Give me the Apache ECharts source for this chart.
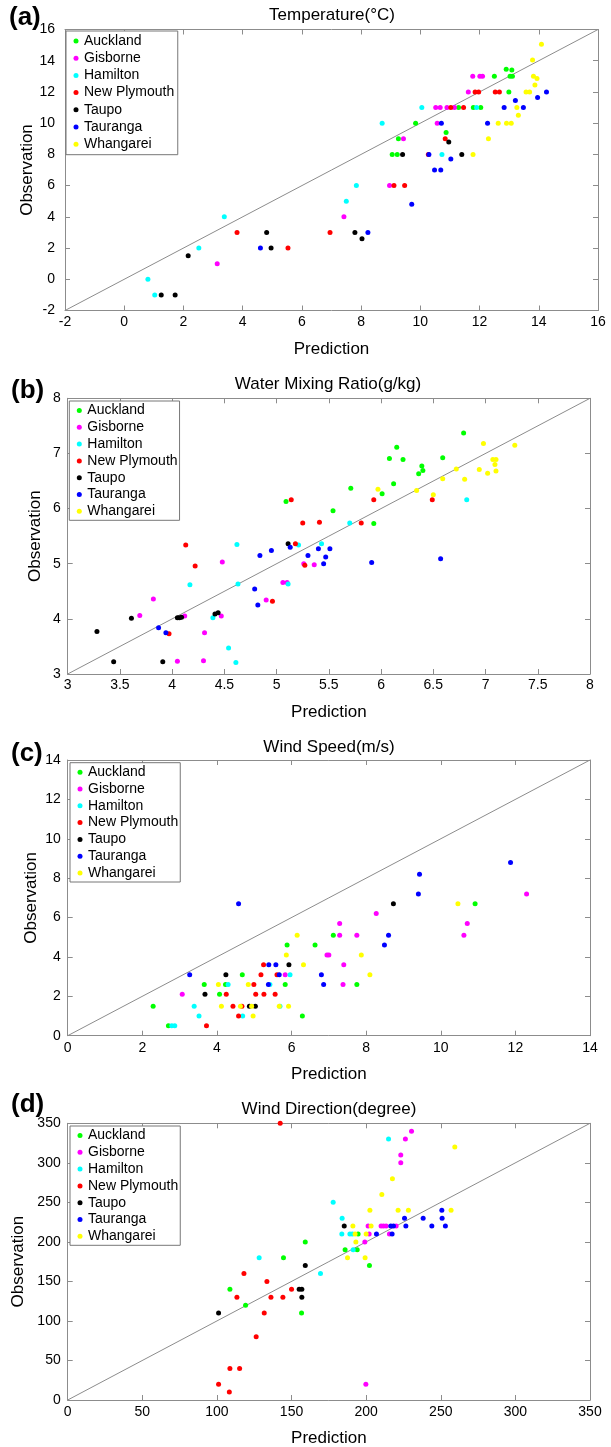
<!DOCTYPE html>
<html>
<head>
<meta charset="utf-8">
<script src="https://cdn.jsdelivr.net/npm/echarts@6/dist/echarts.min.js"></script>
<style>
html,body{margin:0;padding:0;background:#fff;}
#chart{width:611px;height:1447px;}
</style>
</head>
<body>
<div id="chart"></div>
<script>
// ---------- categories ----------
const cities = ['Auckland','Gisborne','Hamilton','New Plymouth','Taupo','Tauranga','Whangarei'];
const cityColors = ['#00ff00','#ff00ff','#00ffff','#ff0000','#000000','#0000ff','#ffff00'];
const panelTitles = ['Temperature(°C)','Water Mixing Ratio(g/kg)','Wind Speed(m/s)','Wind Direction(degree)'];
const panelLetters = ['(a)','(b)','(c)','(d)'];
const xAxisName = 'Prediction';
const yAxisName = 'Observation';

// ---------- axis ranges ----------
const axisMin = [-2, 3, 0, 0];
const axisMax = [16, 8, 14, 350];
const axisStep = [2, 0.5, 2, 50];
const yAxisStep = [2, 1, 2, 50];

// ---------- (a) Temperature: [prediction, observation] ----------
const tempAuckland = [[9.05,8],[9.22,8],[9.26,9],[9.84,10],[10.87,9.4],[11.29,11],[11.79,11],[12.04,11],[12.50,13],[12.90,13.45],[13.09,13.4],[13.03,13],[13.11,13],[12.99,12]];
const tempGisborne = [[3.14,1],[7.42,4],[8.96,6],[9.43,9],[10.52,11],[10.67,11],[10.57,10],[10.90,11],[11.15,11],[11.62,12],[11.77,13],[12.01,13],[12.10,13]];
const tempHamilton = [[0.8,0],[1.03,-1],[2.52,2],[3.38,4],[7.50,5],[7.84,6],[8.71,10],[10.05,11],[10.73,8],[11.90,11]];
const tempNewPlymouth = [[3.81,3],[5.53,2],[6.95,3],[9.11,6],[9.47,6],[10.27,8],[11.03,11],[11.46,11],[10.84,9],[11.85,12],[11.97,12],[12.53,12],[12.67,12]];
const tempTaupo = [[1.25,-1],[1.72,-1],[2.16,1.5],[4.81,3],[4.96,2],[7.79,3],[8.03,2.6],[9.40,8],[10.96,8.8],[11.40,8]];
const tempTauranga = [[4.60,2],[8.23,3],[9.71,4.8],[10.29,8],[10.48,7],[10.69,7],[11.03,7.7],[10.71,10],[12.27,10],[12.83,11],[13.21,11.45],[13.48,11],[13.96,11.64],[14.26,12]];
const tempWhangarei = [[11.78,8],[12.30,9],[12.63,10],[12.91,10],[13.07,10],[13.26,11],[13.31,10.5],[13.57,12],[13.69,12],[13.79,14.05],[13.82,13],[13.87,12.45],[13.94,12.86],[14.09,15.06]];

// ---------- (b) Water mixing ratio ----------
const mixAuckland = [[5.09,6.13],[5.54,5.96],[5.71,6.37],[5.93,5.73],[6.01,6.27],[6.12,6.45],[6.08,6.91],[6.15,7.11],[6.21,6.89],[6.36,6.63],[6.39,6.77],[6.40,6.69],[6.59,6.92],[6.79,7.37]];
const mixGisborne = [[3.69,4.06],[3.82,4.36],[4.05,3.23],[4.12,4.05],[4.31,3.75],[4.30,3.24],[4.47,4.05],[4.48,5.03],[4.90,4.34],[5.06,4.66],[5.10,4.66],[5.26,5.00],[5.36,4.98]];
const mixHamilton = [[4.17,4.62],[4.39,4.02],[4.54,3.47],[4.61,3.21],[4.62,5.35],[4.63,4.63],[5.11,4.63],[5.21,5.34],[5.43,5.36],[5.70,5.74],[6.82,6.16]];
const mixNewPlymouth = [[3.97,3.73],[4.13,5.34],[4.22,4.96],[4.96,4.32],[5.14,6.16],[5.18,5.36],[5.25,5.74],[5.27,4.97],[5.41,5.75],[5.81,5.74],[5.93,6.16],[6.49,6.16]];
const mixTaupo = [[3.28,3.77],[3.44,3.22],[3.61,4.01],[3.91,3.22],[4.05,4.02],[4.07,4.02],[4.09,4.03],[4.41,4.09],[4.44,4.11],[5.11,5.36]];
const mixTauranga = [[3.87,3.84],[3.94,3.75],[4.79,4.54],[4.82,4.25],[4.84,5.15],[4.95,5.24],[5.13,5.30],[5.30,5.15],[5.40,5.27],[5.45,5.00],[5.47,5.12],[5.51,5.27],[5.91,5.02],[6.57,5.09]];
const mixWhangarei = [[5.97,6.35],[6.34,6.33],[6.50,6.25],[6.59,6.54],[6.72,6.72],[6.80,6.53],[6.94,6.71],[6.98,7.18],[7.02,6.64],[7.07,6.89],[7.10,6.89],[7.09,6.80],[7.10,6.68],[7.28,7.15]];

// ---------- (c) Wind speed ----------
const speedAuckland = [[2.29,1.5],[2.70,0.5],[3.66,2.6],[4.07,2.1],[4.23,2.6],[4.68,3.1],[5.83,2.6],[5.88,4.6],[6.29,1.0],[6.63,4.6],[7.12,5.1],[7.75,2.6],[10.92,6.7]];
const speedGisborne = [[3.07,2.1],[5.83,3.1],[6.95,4.1],[7.0,4.1],[7.29,5.7],[7.29,5.1],[7.40,3.6],[7.38,2.6],[7.75,5.1],[8.27,6.2],[10.62,5.1],[10.71,5.7],[12.30,7.2]];
const speedHamilton = [[2.79,0.5],[2.87,0.5],[3.39,1.5],[3.52,1.0],[4.30,2.6],[4.69,1.0],[5.42,2.6],[5.69,1.5],[5.96,3.1]];
const speedNewPlymouth = [[3.72,0.5],[4.25,2.1],[4.43,1.5],[4.58,1.0],[4.67,1.5],[4.99,2.6],[5.04,2.1],[5.18,3.1],[5.25,3.6],[5.26,2.1],[5.56,2.1],[5.61,3.1]];
const speedTaupo = [[3.68,2.1],[4.24,3.1],[4.87,1.5],[5.03,1.5],[5.93,3.6],[8.73,6.7]];
const speedTauranga = [[3.27,3.1],[4.58,6.7],[5.39,3.6],[5.38,2.6],[5.58,3.6],[5.67,3.1],[6.80,3.1],[6.86,2.6],[8.49,4.6],[8.60,5.1],[9.40,7.2],[9.43,8.2],[11.87,8.8]];
const speedWhangarei = [[4.04,2.6],[4.12,1.5],[4.63,1.5],[4.84,2.6],[4.93,1.5],[4.97,1.0],[5.67,1.5],[5.86,4.1],[5.92,1.5],[6.15,5.1],[6.32,3.6],[7.87,4.1],[8.10,3.1],[10.46,6.7]];

// ---------- (d) Wind direction ----------
const dirAuckland = [[108.7,140],[119.2,120],[144.6,180],[156.7,110],[159.2,200],[185.9,190],[194.0,190],[194.6,210],[202.2,170]];
const dirGisborne = [[199.1,200],[202,210],[201.3,220],[210,220],[211.6,220],[213.4,220],[215.6,210],[220.1,220],[223.2,300],[223.2,310],[226.3,330],[230.4,340],[199.8,20]];
const dirHamilton = [[128.3,180],[169.4,160],[177.9,250],[183.9,230],[183.7,210],[189.1,210],[190.8,210],[191.3,190],[215,330]];
const dirNewPlymouth = [[142.4,350],[118.1,160],[133.5,150],[150,140],[113.4,130],[136.2,130],[144.2,130],[131.7,110],[126.3,80],[108.7,40],[115.2,40],[101.1,20],[108.3,10]];
const dirTaupo = [[101.1,110],[155.1,140],[156.9,140],[156.9,130],[159.2,170],[185.3,220]];
const dirTauranga = [[206.9,210],[217.4,210],[216.5,220],[218.3,220],[225.7,230],[226.6,220],[238.2,230],[244,220],[250.7,240],[250.9,230],[253.1,220]];
const dirWhangarei = [[187.5,180],[191.1,220],[192.6,210],[193.1,200],[199.3,180],[200,210],[202.5,240],[203.3,220],[210.5,260],[217.6,280],[221.4,240],[228.3,240],[256.9,240],[259.4,320]];

const panelData = [
  [tempAuckland,tempGisborne,tempHamilton,tempNewPlymouth,tempTaupo,tempTauranga,tempWhangarei],
  [mixAuckland,mixGisborne,mixHamilton,mixNewPlymouth,mixTaupo,mixTauranga,mixWhangarei],
  [speedAuckland,speedGisborne,speedHamilton,speedNewPlymouth,speedTaupo,speedTauranga,speedWhangarei],
  [dirAuckland,dirGisborne,dirHamilton,dirNewPlymouth,dirTaupo,dirTauranga,dirWhangarei]
];

// ---------- layout (pixels) ----------
const FONT = "'Liberation Sans', Arial, Helvetica, sans-serif";
const grids = [
  {left:65, top:29.5, width:533, height:281},
  {left:67.7, top:398.3, width:522.3, height:275.7},
  {left:67.7, top:760, width:522.3, height:275.7},
  {left:67.7, top:1123.3, width:522.3, height:276.7}
];
const titlePos = [[332,15],[328,384],[329,747],[329,1109]];
const letterPos = [[9,18],[11,391],[11,754],[11,1105]];
const yLabelMargin = [10, 7, 7, 7];
const xLabelMargin = [5, 4, 5, 5];
const yNameGap = [29, 24, 28, 41];
const xNameGap = [30, 30, 30, 30];
const legendPos = [
  {left:66, top:31, padding:[3,3.5,3.5,7.5], itemGap:3.2},
  {left:69.3, top:401, padding:[2.5,2,2,7.5], itemGap:2.8},
  {left:70, top:762.7, padding:[2.5,2,2,7.5], itemGap:2.8},
  {left:70, top:1126, padding:[2.5,2,2,7.5], itemGap:2.8}
];

const AXIS_COLOR = '#8c8c8c';
const xAxes = [], yAxes = [], series = [], legends = [], graphics = [];

for (let p = 0; p < 4; p++) {
  const common = {
    gridIndex: p, type: 'value', min: axisMin[p], max: axisMax[p],
    axisLine: {show: true, onZero: false, lineStyle: {color: AXIS_COLOR, width: 1}},
    axisTick: {show: true, inside: true, length: 5, lineStyle: {color: AXIS_COLOR}},
    splitLine: {show: false}
  };
  xAxes.push(Object.assign({}, common, {
    position: 'bottom', interval: axisStep[p],
    axisLabel: {color: '#000', fontSize: 14, fontFamily: FONT, margin: xLabelMargin[p], showMinLabel: true, showMaxLabel: true},
    name: xAxisName, nameLocation: 'middle', nameGap: xNameGap[p], nameMoveOverlap: false,
    nameTextStyle: {color: '#000', fontSize: 17, fontFamily: FONT}
  }));
  xAxes.push(Object.assign({}, common, {
    position: 'top', interval: axisStep[p], axisLabel: {show: false}
  }));
  yAxes.push(Object.assign({}, common, {
    position: 'left', interval: yAxisStep[p],
    axisLabel: {color: '#000', fontSize: 14, fontFamily: FONT, margin: yLabelMargin[p], showMinLabel: true, showMaxLabel: true},
    name: yAxisName, nameLocation: 'middle', nameGap: yNameGap[p], nameRotate: 90, nameMoveOverlap: false,
    nameTextStyle: {color: '#000', fontSize: 17, fontFamily: FONT}
  }));
  yAxes.push(Object.assign({}, common, {
    position: 'right', interval: yAxisStep[p], axisLabel: {show: false}
  }));

  // 1:1 reference line
  series.push({
    type: 'line', xAxisIndex: 2*p, yAxisIndex: 2*p, silent: true,
    data: [[axisMin[p], axisMin[p]], [axisMax[p], axisMax[p]]],
    showSymbol: false, symbol: 'none',
    lineStyle: {color: '#8c8c8c', width: 1}, z: 1
  });
  for (let c = 0; c < cities.length; c++) {
    series.push({
      type: 'scatter', name: cities[c], xAxisIndex: 2*p, yAxisIndex: 2*p,
      data: panelData[p][c], symbol: 'circle', symbolSize: 5,
      itemStyle: {color: cityColors[c], opacity: 1},
      emphasis: {disabled: true}, z: 2
    });
  }
  legends.push({
    show: true, orient: 'vertical', left: legendPos[p].left, top: legendPos[p].top,
    padding: legendPos[p].padding, itemGap: legendPos[p].itemGap,
    itemWidth: 6, itemHeight: 5, icon: 'circle',
    borderColor: '#777', borderWidth: 1, backgroundColor: '#fff',
    selectedMode: false,
    textStyle: {color: '#000', fontSize: 14, fontFamily: FONT, lineHeight: 14, padding: 0},
    data: cities.slice()
  });
  graphics.push({
    type: 'text', x: titlePos[p][0], y: titlePos[p][1],
    style: {text: panelTitles[p], fill: '#000', font: '17px ' + FONT, align: 'center', verticalAlign: 'middle'}
  });
  graphics.push({
    type: 'text', x: letterPos[p][0], y: letterPos[p][1],
    style: {text: panelLetters[p], fill: '#000', font: 'bold 26px ' + FONT, align: 'left', verticalAlign: 'middle'}
  });
}

const chart = echarts.init(document.getElementById('chart'), null, {renderer: 'canvas'});
chart.setOption({
  animation: false,
  backgroundColor: '#fff',
  textStyle: {fontFamily: FONT},
  grid: grids.map(g => Object.assign({containLabel: false, outerBoundsMode: 'none'}, g)),
  xAxis: xAxes,
  yAxis: yAxes,
  legend: legends,
  series: series,
  graphic: graphics
});
</script>
</body>
</html>
